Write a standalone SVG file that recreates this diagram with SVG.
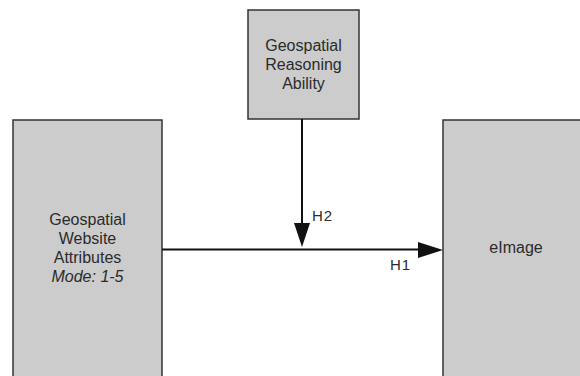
<svg xmlns="http://www.w3.org/2000/svg" width="580" height="376" viewBox="0 0 580 376">
<style>
.box{fill:#cccccc;stroke:#333333;stroke-width:1.5}
.lbl{font-family:"Liberation Sans",Arial,sans-serif;font-size:16px;fill:#2b2b2b;text-anchor:middle}
.hl{font-family:"Liberation Sans",Arial,sans-serif;font-size:15px;fill:#2b2b2b;letter-spacing:1px}
.conn{stroke:#111111;stroke-width:2;fill:none}
.head{fill:#111111}
</style>
<rect width="580" height="376" fill="#ffffff"/>
<g id="node-reasoning">
<rect class="box" x="248" y="10" width="111" height="109"/>
<text class="lbl" x="303.5" y="51">Geospatial</text>
<text class="lbl" x="303.5" y="70">Reasoning</text>
<text class="lbl" x="303.5" y="89">Ability</text>
</g>
<g id="node-attributes">
<rect class="box" x="13" y="120" width="149" height="262"/>
<text class="lbl" x="87.5" y="225">Geospatial</text>
<text class="lbl" x="87.5" y="244">Website</text>
<text class="lbl" x="87.5" y="263">Attributes</text>
<text class="lbl" x="87.5" y="282" font-style="italic">Mode: 1-5</text>
</g>
<g id="node-eimage">
<rect class="box" x="443" y="120" width="147" height="262"/>
<text class="lbl" x="516" y="253">eImage</text>
</g>
<g id="connectors">
<line class="conn" x1="162" y1="249.5" x2="420" y2="249.5"/>
<polygon class="head" points="418,242 443,250 418,258"/>
<line class="conn" x1="302" y1="119" x2="302" y2="225"/>
<polygon class="head" points="294,223 310,223 302,247"/>
<text class="hl" x="312" y="221">H2</text>
<text class="hl" x="390" y="270">H1</text>
</g>
</svg>
